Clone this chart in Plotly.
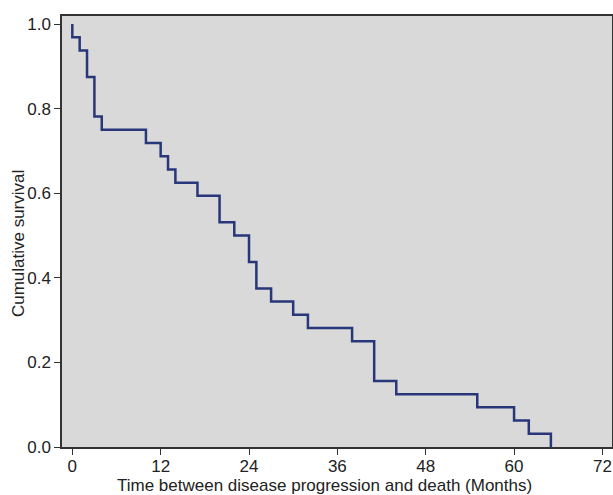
import plotly.graph_objects as go

# Kaplan-Meier step data (time in months, survival after each event)
event_times = [0, 1, 2, 3, 4, 10, 12, 13, 14, 17, 20, 22, 24, 25, 27, 30, 32, 38, 41, 44, 55, 60, 62, 65]
survival = [0.96875, 0.9375, 0.875, 0.78125, 0.75, 0.71875, 0.6875, 0.65625, 0.625, 0.59375,
            0.53125, 0.5, 0.4375, 0.375, 0.34375, 0.3125, 0.28125, 0.25, 0.15625, 0.125,
            0.09375, 0.0625, 0.03125, 0.0]
start_time = 0
start_survival = 1.0

x_ticks = [0, 12, 24, 36, 48, 60, 72]
y_ticks = [0.0, 0.2, 0.4, 0.6, 0.8, 1.0]

x_title = "Time between disease progression and death (Months)"
y_title = "Cumulative survival"

FONT = "Liberation Sans, Arial, Helvetica, sans-serif"

fig = go.Figure()
fig.add_trace(go.Scatter(
    x=[start_time] + event_times,
    y=[start_survival] + survival,
    mode="lines",
    line=dict(shape="hv", color="#28367a", width=2.5),
    showlegend=False,
))

axis_common = dict(
    showline=True, linecolor="#333333", linewidth=1.5, mirror=True,
    ticks="outside", ticklen=6, tickwidth=1.2, tickcolor="#333333",
    showgrid=False, zeroline=False, automargin=False,
    tickfont=dict(size=17),
)

fig.update_layout(
    width=613, height=495,
    margin=dict(l=62, r=1, t=16, b=48),
    paper_bgcolor="white",
    plot_bgcolor="#d9d9d9",
    font=dict(family=FONT, color="#222222"),
    xaxis=dict(range=[-1.4, 73.3], tickvals=x_ticks, ticklabelstandoff=-3, **axis_common),
    yaxis=dict(range=[0, 1.019], tickvals=y_ticks, tickformat=".1f", **axis_common),
    annotations=[
        dict(text=x_title, xref="paper", yref="paper", x=0.478, y=-0.089,
             xanchor="center", yanchor="middle", showarrow=False,
             font=dict(size=17)),
        dict(text=y_title, xref="paper", yref="paper", x=-0.078, y=0.471,
             xanchor="center", yanchor="middle", showarrow=False, textangle=-90,
             font=dict(size=17)),
    ],
)

fig.write_html("out.html", post_script="document.body.style.margin='0';",
               config={"displayModeBar": False})
